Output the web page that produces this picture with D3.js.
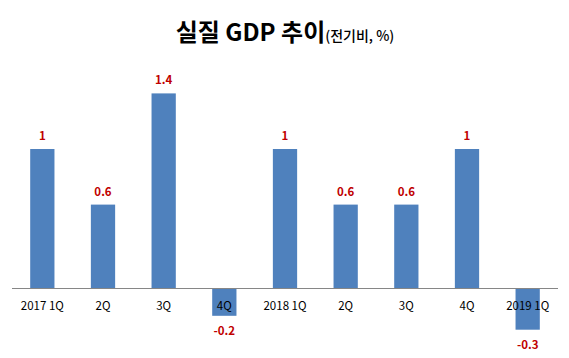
<!DOCTYPE html>
<html><head><meta charset="utf-8">
<script src="https://cdn.jsdelivr.net/npm/d3@7"></script>
<style>body{margin:0;background:#fff}svg{display:block}</style>
</head><body>
<svg id="c" width="569" height="358"></svg>
<script>
const categories = ["2017 1Q","2Q","3Q","4Q","2018 1Q","2Q","3Q","4Q","2019 1Q"];
const values = [1, 0.6, 1.4, -0.2, 1, 0.6, 0.6, 1, -0.3];
const titleMain = "실질 GDP 추이";
const titleSub = "(전기비, %)";

const svg = d3.select("#c");
const font = "'Noto Sans CJK KR','Noto Sans',sans-serif";
const x = d3.scaleBand().domain(d3.range(categories.length)).range([12, 558]).paddingInner(0.6).paddingOuter(0.3);
const y = d3.scaleLinear().domain([0, 1.4]).range([288, 93.4]);

svg.selectAll("rect.bar").data(values).join("rect")
  .attr("class","bar")
  .attr("x",(d,i)=>x(i)).attr("width",x.bandwidth())
  .attr("y",d=>Math.min(y(d),y(0))).attr("height",d=>Math.abs(y(d)-y(0)))
  .attr("fill","#4F81BD");

svg.append("line").attr("x1",12).attr("x2",558).attr("y1",y(0)+0.5).attr("y2",y(0)+0.5)
  .attr("stroke","#868686").attr("stroke-width",1);

svg.selectAll("text.cat").data(categories).join("text")
  .attr("class","cat")
  .attr("x",(d,i)=>x(i)+x.bandwidth()/2).attr("y",310)
  .attr("text-anchor","middle").attr("font-family",font).attr("font-size",11.5).attr("fill","#000")
  .text(d=>d);

svg.selectAll("text.val").data(values).join("text")
  .attr("class","val")
  .attr("x",(d,i)=>x(i)+x.bandwidth()/2)
  .attr("y",d=> d>=0 ? y(d)-9 : y(d)+19)
  .attr("text-anchor","middle").attr("font-family",font).attr("font-size",11.5).attr("font-weight","bold").attr("fill","#C00000")
  .text(d=>d);

const t = svg.append("text").attr("x",285).attr("y",41).attr("text-anchor","middle").attr("font-family",font).attr("fill","#000");
t.append("tspan").attr("font-size",24).attr("font-weight","bold").text(titleMain);
t.append("tspan").attr("font-size",14).attr("font-weight","500").text(titleSub);
</script>
</body></html>
